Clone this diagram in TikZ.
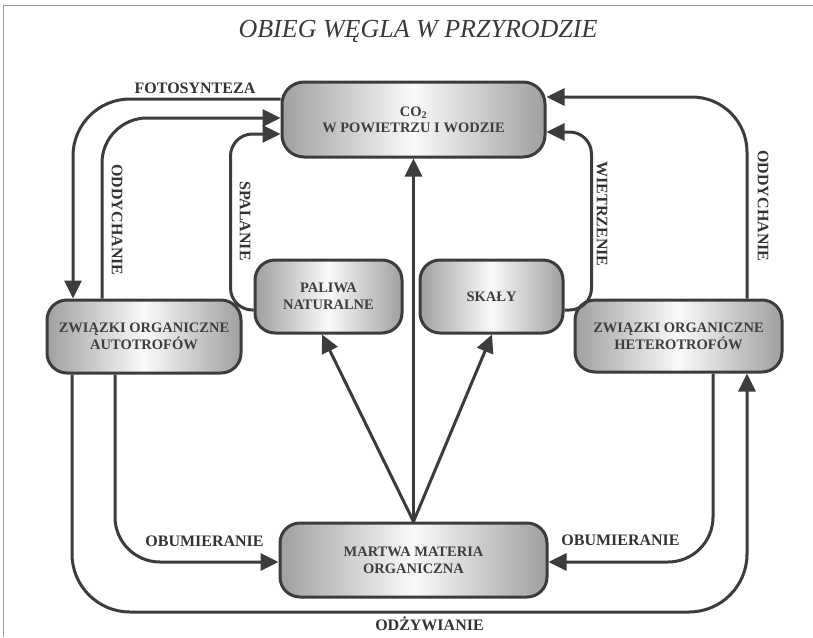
\documentclass[tikz,border=0pt]{standalone}
\usepackage{fontspec}
\setmainfont{Liberation Serif}
\usetikzlibrary{arrows.meta}
\definecolor{linec}{HTML}{3C3C3C}
\definecolor{boxtxt}{HTML}{3E3E3E}
\definecolor{labtxt}{HTML}{333333}
\definecolor{titlec}{HTML}{3A3A3A}
\definecolor{framec}{HTML}{9A9A9A}
\tikzset{
  conn/.style={draw=linec, line width=3pt},
  arr/.style={conn, -{Triangle[length=18pt,width=17pt]}},
  lab/.style={font=\fontsize{16}{18}\selectfont\bfseries, text=labtxt, inner sep=0pt},
  box/.style={draw=linec, line width=3pt, rounded corners=20pt,
    left color=gray!75, right color=gray!75, middle color=gray!4,
    font=\fontsize{14.5}{17}\selectfont\bfseries, text=boxtxt, align=center, inner sep=0pt},
}
\begin{document}
\begin{tikzpicture}[x=1pt,y=-1pt]
\useasboundingbox (0,0) rectangle (813,637);
% frame
\draw[framec, line width=1pt] (3,637) -- (3,5) -- (813,5);
% title
\node[font=\fontsize{26}{30}\selectfont\itshape, text=titlec, inner sep=0pt] (title) at (418,31) {OBIEG WĘGLA W PRZYRODZIE};
% boxes
\node[box, minimum width=263pt, minimum height=75pt, rounded corners=22pt] (co2) at (413.5,119.5) {CO\textsubscript{2}\\[-1pt]W POWIETRZU I WODZIE};
\node[box, minimum width=194pt, minimum height=73pt] (auto) at (144,336.5) {ZWIĄZKI ORGANICZNE\\AUTOTROFÓW};
\node[box, minimum width=207pt, minimum height=72pt] (hetero) at (678.5,336) {ZWIĄZKI ORGANICZNE\\HETEROTROFÓW};
\node[box, minimum width=147pt, minimum height=73pt] (paliwa) at (328.5,296.5) {PALIWA\\NATURALNE};
\node[box, minimum width=143pt, minimum height=73pt] (skaly) at (491.5,296.5) {SKAŁY};
\node[box, minimum width=267pt, minimum height=74pt] (martwa) at (413.5,560) {MARTWA MATERIA\\ORGANICZNA};
% connectors
% fotosynteza
\draw[arr, rounded corners=57pt] ([yshift=20.5pt]co2.west) -| ([xshift=-71pt]auto.north);
% oddychanie (autotrofy)
\draw[arr, rounded corners=45pt] ([xshift=-42pt]auto.north) |- ([yshift=1.5pt]co2.west);
% spalanie
\draw[arr, rounded corners=22pt] ([yshift=-13.5pt]paliwa.west) -| ([xshift=-50pt,yshift=-14.5pt]co2.west) -- ([yshift=-14.5pt]co2.west);
% wietrzenie
\draw[arr, rounded corners=22pt] ([yshift=-13.5pt]skaly.east) -| ([xshift=45pt,yshift=-12.5pt]co2.east) -- ([yshift=-12.5pt]co2.east);
% oddychanie (heterotrofy)
\draw[arr, rounded corners=55pt] ([xshift=68.5pt]hetero.north) |- ([yshift=22.5pt]co2.east);
% obumieranie
\draw[arr, rounded corners=45pt] ([xshift=-29pt]auto.south) |- ([yshift=-2pt]martwa.west);
\draw[arr, rounded corners=45pt] ([xshift=34.5pt]hetero.south) |- ([yshift=-2pt]martwa.east);
% odzywianie
\coordinate (bot) at (413.5,612);
\draw[arr, rounded corners=58pt] ([xshift=-72pt]auto.south) |- (bot) -| ([xshift=68.5pt]hetero.south);
% from dead matter
\draw[arr] (martwa.north) -- (co2.south);
\draw[arr] (martwa.north) -- ([xshift=-6.5pt]paliwa.south);
\draw[arr] (martwa.north) -- ([xshift=0.5pt]skaly.south);
% labels
\node[lab] (lfoto) at (195,88) {FOTOSYNTEZA};
\node[lab] (lobl) at (204.5,541) {OBUMIERANIE};
\node[lab] (lobr) at (620.5,540) {OBUMIERANIE};
\node[lab] (lodz) at (429.5,624) {ODŻYWIANIE};
\node[lab, rotate=-90] (lodl) at (117,220) {ODDYCHANIE};
\node[lab, rotate=-90] (lspal) at (245,221) {SPALANIE};
\node[lab, rotate=-90] (lwiet) at (602,214) {WIETRZENIE};
\node[lab, rotate=-90] (lodr) at (763,206) {ODDYCHANIE};
\end{tikzpicture}
\end{document}
